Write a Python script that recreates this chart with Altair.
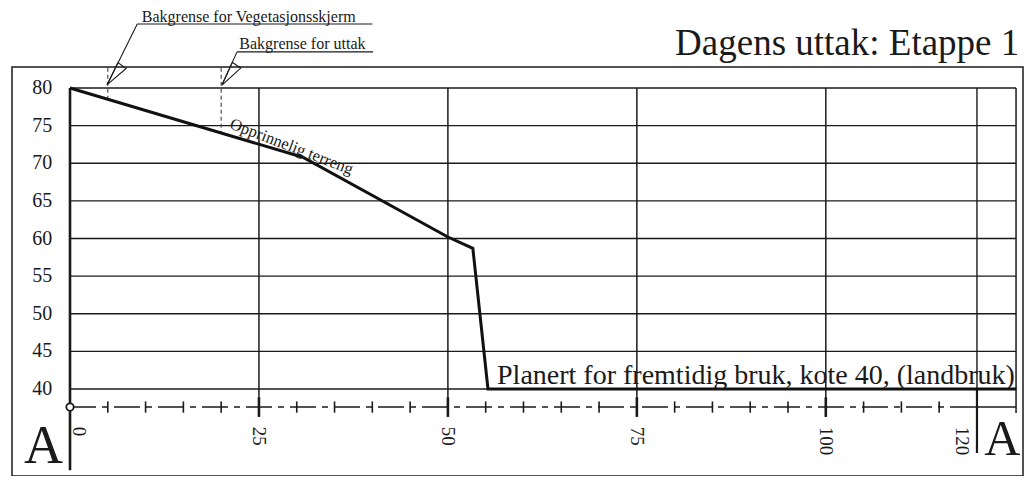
import altair as alt
import pandas as pd

# ---------------- data ----------------
y_ticks = [40, 45, 50, 55, 60, 65, 70, 75, 80]
y_tick_labels = ["40", "45", "50", "55", "60", "65", "70", "75", "80"]
x_major = [25, 50, 75, 100]
x_minor = [5, 10, 15, 20, 30, 35, 40, 45, 55, 60, 65, 70, 80, 85, 90, 95, 105, 110, 115]
x_tick_labels = ["0", "25", "50", "75", "100", "120"]
x_tick_label_pos = [1.2, 25, 50, 75, 100, 118.0]

terrain_x = [0, 30.8, 50, 53.3, 55.3, 125.2]
terrain_y = [80, 70.8, 60.2, 58.7, 40, 40]

setback_names = ["Bakgrense for Vegetasjonsskjerm", "Bakgrense for uttak"]
setback_x = [5.0, 20.0]
setback_bottom = [78.5, 73.9]
setback_text_x = [9.5, 22.4]
setback_text_y = [88.8, 85.2]
setback_line_x = [8.9, 22.1]
setback_line_x2 = [40.0, 40.1]
setback_line_y = [88.5, 84.8]
setback_tip_x = [4.9, 20.1]
setback_tip_y = [80.4, 80.4]
setback_wedge_x = [5.62, 20.8]
setback_wedge_y = [81.9, 81.9]
setback_wedge_angle = [206, 204.5]

title_text = "Dagens uttak: Etappe 1"
terrain_label = "Opprinnelig terreng"
flat_label = "Planert for fremtidig bruk, kote 40, (landbruk)"
section_label = "A"

X_END = 125.17
AXIS_Y = 37.6
X_DOMAIN = [-7.674, 126.09]
Y_DOMAIN = [28.44, 82.79]

FONT = "Liberation Serif"
INK = "#1a1a1a"

xs = alt.Scale(domain=X_DOMAIN, nice=False, zero=False)
ys = alt.Scale(domain=Y_DOMAIN, nice=False, zero=False)


def X(f):
    return alt.X(f, type="quantitative", scale=xs, axis=None)


def Y(f):
    return alt.Y(f, type="quantitative", scale=ys, axis=None)


layers = []

# horizontal grid lines
hg = pd.DataFrame({"y": y_ticks, "x": 0.0, "x2": X_END})
layers.append(alt.Chart(hg).mark_rule(color=INK, strokeWidth=1.3).encode(
    x=X("x"), x2="x2", y=Y("y")))

# vertical grid lines at major ticks
vg = pd.DataFrame({"x": x_major, "y": 80.0, "y2": 36.3})
layers.append(alt.Chart(vg).mark_rule(color=INK, strokeWidth=1.5).encode(
    x=X("x"), y=Y("y"), y2="y2"))
vgb = pd.DataFrame({"x": x_major, "y": 38.9, "y2": 36.3})
layers.append(alt.Chart(vgb).mark_rule(color=INK, strokeWidth=2.6).encode(
    x=X("x"), y=Y("y"), y2="y2"))

# edge verticals
ed = pd.DataFrame({"x": [0.0, 120.0, 120.0, X_END],
                   "y": [80.0, 80.0, 40.0, 80.0],
                   "y2": [29.2, 40.0, 31.5, 36.8],
                   "w": [2.6, 1.4, 2.2, 1.5]})
layers.append(alt.Chart(ed).mark_rule(color=INK).encode(
    x=X("x"), y=Y("y"), y2="y2", strokeWidth=alt.StrokeWidth("w:Q", scale=None)))

# dash-dot base line
ax = pd.DataFrame({"x": [0.0], "x2": [120.0], "y": [AXIS_Y]})
layers.append(alt.Chart(ax).mark_rule(color=INK, strokeWidth=1.5, strokeDash=[26, 6, 6, 6]).encode(
    x=X("x"), x2="x2", y=Y("y")))
ax2 = pd.DataFrame({"x": [120.0], "x2": [X_END], "y": [AXIS_Y]})
layers.append(alt.Chart(ax2).mark_rule(color=INK, strokeWidth=1.5).encode(
    x=X("x"), x2="x2", y=Y("y")))

# minor ticks
mt = pd.DataFrame({"x": x_minor})
mt["y"] = AXIS_Y + 0.75
mt["y2"] = AXIS_Y - 0.75
layers.append(alt.Chart(mt).mark_rule(color=INK, strokeWidth=1.6).encode(
    x=X("x"), y=Y("y"), y2="y2"))

# origin circle
oc = pd.DataFrame({"x": [0.0], "y": [AXIS_Y]})
layers.append(alt.Chart(oc).mark_point(shape="circle", filled=True, fill="white",
                                       stroke=INK, strokeWidth=1.8, size=55, opacity=1).encode(
    x=X("x"), y=Y("y")))

# setback dashed verticals
sb = pd.DataFrame({"x": setback_x, "y": 82.7, "y2": setback_bottom})
layers.append(alt.Chart(sb).mark_rule(color="#444", strokeWidth=1.1, strokeDash=[4, 3]).encode(
    x=X("x"), y=Y("y"), y2="y2"))

# terrain line
tr = pd.DataFrame({"x": terrain_x, "y": terrain_y, "i": list(range(len(terrain_x)))})
layers.append(alt.Chart(tr).mark_line(color="#111", strokeWidth=3, strokeJoin="miter").encode(
    x=X("x"), y=Y("y"), order="i:Q"))

# setback leaders
ld = pd.DataFrame({"x": setback_tip_x, "y": setback_tip_y,
                   "x2": setback_line_x, "y2": setback_line_y})
layers.append(alt.Chart(ld).mark_rule(color=INK, strokeWidth=1.1).encode(
    x=X("x"), y=Y("y"), x2="x2", y2="y2"))
ul = pd.DataFrame({"x": setback_line_x, "x2": setback_line_x2, "y": setback_line_y})
layers.append(alt.Chart(ul).mark_rule(color=INK, strokeWidth=1.1).encode(
    x=X("x"), x2="x2", y=Y("y")))
wd = pd.DataFrame({"x": setback_wedge_x, "y": setback_wedge_y, "a": setback_wedge_angle})
layers.append(alt.Chart(wd).mark_point(shape="M0,-1L0,1L-0.8,0.85Z", filled=False,
                                       stroke=INK, strokeWidth=1.1, size=625, opacity=1).encode(
    x=X("x"), y=Y("y"), angle=alt.Angle("a:Q", scale=None)))
st = pd.DataFrame({"x": setback_text_x, "y": setback_text_y, "t": setback_names})
layers.append(alt.Chart(st).mark_text(font=FONT, fontSize=16, align="left", baseline="alphabetic",
                                      color=INK).encode(x=X("x"), y=Y("y"), text="t:N"))

# y labels
yl = pd.DataFrame({"y": y_ticks, "t": y_tick_labels})
yl["x"] = -2.35
layers.append(alt.Chart(yl).mark_text(font=FONT, fontSize=20, align="right", baseline="middle",
                                      color=INK).encode(x=X("x"), y=Y("y"), text="t:N"))

# x labels (rotated)
xl = pd.DataFrame({"x": x_tick_label_pos, "t": x_tick_labels})
xl["y"] = 35.0
layers.append(alt.Chart(xl).mark_text(font=FONT, fontSize=19, align="left", baseline="middle",
                                      angle=90, color=INK).encode(x=X("x"), y=Y("y"), text="t:N"))

# section letters
sl_left = pd.DataFrame({"x": [-0.93], "y": [30.2], "t": [section_label]})
layers.append(alt.Chart(sl_left).mark_text(font=FONT, fontSize=54, align="right",
                                           baseline="alphabetic", color=INK).encode(
    x=X("x"), y=Y("y"), text="t:N"))
sl_right = pd.DataFrame({"x": [120.95], "y": [31.2], "t": [section_label]})
layers.append(alt.Chart(sl_right).mark_text(font=FONT, fontSize=50, align="left",
                                            baseline="alphabetic", color=INK).encode(
    x=X("x"), y=Y("y"), text="t:N"))

# terrain labels
tl = pd.DataFrame({"x": [21.0], "y": [74.7], "t": [terrain_label]})
layers.append(alt.Chart(tl).mark_text(font=FONT, fontSize=16.5, align="left", baseline="alphabetic",
                                      angle=21, color=INK).encode(x=X("x"), y=Y("y"), text="t:N"))
fl = pd.DataFrame({"x": [56.5], "y": [40.6], "t": [flat_label]})
layers.append(alt.Chart(fl).mark_text(font=FONT, fontSize=28, align="left", baseline="alphabetic",
                                      color=INK).encode(x=X("x"), y=Y("y"), text="t:N"))

# title
tt = pd.DataFrame({"x": [125.6], "y": [84.4], "t": [title_text]})
layers.append(alt.Chart(tt).mark_text(font=FONT, fontSize=37, align="right", baseline="alphabetic",
                                      color=INK).encode(x=X("x"), y=Y("y"), text="t:N"))

chart = alt.layer(*layers).properties(
    width=1011, height=409,
    padding={"left": 4, "top": 59, "right": 1, "bottom": 0},
    autosize=alt.AutoSizeParams(type="none"),
    background="white",
).configure_view(stroke=INK, strokeWidth=1.5)

chart.save("out.html", embed_options={"renderer": "svg", "actions": False})
